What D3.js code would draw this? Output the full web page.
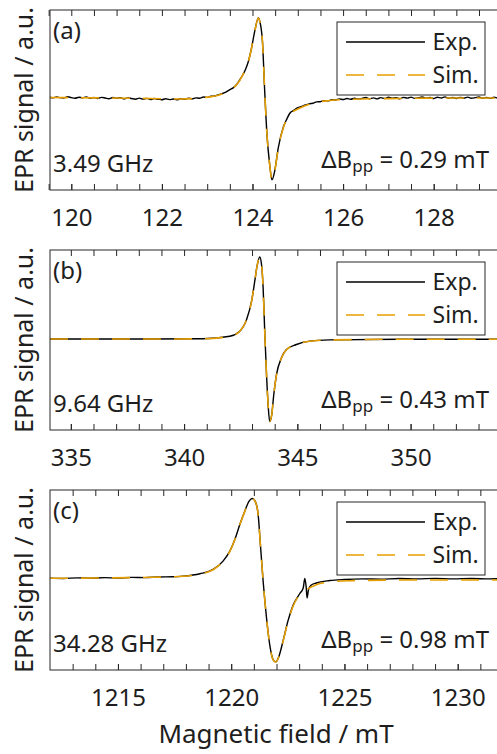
<!DOCTYPE html>
<html>
<head>
<meta charset="utf-8">
<script src="https://cdn.jsdelivr.net/npm/d3@7"></script>
<style>
  body { margin: 0; background: #fff; }
  svg { display: block; }
  text { font-family: "Noto Sans", sans-serif; fill: #1e1e1e; }
</style>
</head>
<body>
<div id="chart"></div>
<script>
// 画布尺寸
const width = 497;
const height = 754;

// 每个面板的文字
const panelLabels = ["(a)", "(b)", "(c)"];
const frequencies = ["3.49 GHz", "9.64 GHz", "34.28 GHz"];
const linewidths = ["0.29", "0.43", "0.98"];

// 横轴范围与刻度
const fieldRanges = [[119.53, 129.53], [334.08, 354.08], [1212, 1232]];
const majorTicks = [[120, 122, 124, 126, 128], [335, 340, 345, 350], [1215, 1220, 1225, 1230]];
const minorTicks = [
    [119.5, 120, 120.5, 121, 121.5, 122, 122.5, 123, 123.5, 124, 124.5, 125, 125.5, 126, 126.5, 127, 127.5, 128, 128.5, 129, 129.5],
    [335, 336, 337, 338, 339, 340, 341, 342, 343, 344, 345, 346, 347, 348, 349, 350, 351, 352, 353, 354],
    [1213, 1214, 1215, 1216, 1217, 1218, 1219, 1220, 1221, 1222, 1223, 1224, 1225, 1226, 1227, 1228, 1229, 1230, 1231]
];

// (a) 3.49 GHz 模拟谱 [field, signal]
const simA = [
    [119.53, 0.028], [120.63, 0.024], [121.74, 0.017], [122.40, 0.011], [122.91, 0.026],
    [123.28, 0.059], [123.50, 0.114], [123.65, 0.170], [123.79, 0.281], [123.90, 0.411],
    [123.98, 0.578], [124.05, 0.763], [124.13, 0.911], [124.16, 0.874], [124.22, 0.652],
    [124.27, 0.097], [124.32, -0.386], [124.38, -0.719], [124.43, -0.886], [124.49, -0.792],
    [124.57, -0.533], [124.68, -0.311], [124.82, -0.163], [125.05, -0.089], [125.34, -0.033],
    [125.71, -0.006], [126.15, 0.008], [127.25, 0.017], [128.35, 0.022], [129.53, 0.022]
];

// (a) 实验谱（带噪声）
const expA = [
    [119.53, 0.031], [119.60, 0.024], [119.68, 0.034], [119.75, 0.026], [119.83, 0.022], [119.92, 0.036],
    [120.00, 0.027], [120.08, 0.019], [120.17, 0.031], [120.25, 0.024], [120.33, 0.033], [120.42, 0.020],
    [120.50, 0.028], [120.58, 0.017], [120.67, 0.029], [120.75, 0.022], [120.83, 0.014], [120.92, 0.027],
    [121.00, 0.019], [121.08, 0.025], [121.17, 0.012], [121.25, 0.023], [121.33, 0.016], [121.42, 0.009],
    [121.50, 0.021], [121.58, 0.010], [121.67, 0.018], [121.75, 0.005], [121.83, 0.016], [121.92, 0.008],
    [122.00, 0.003], [122.08, 0.014], [122.17, 0.004], [122.25, 0.011], [122.33, 0.002], [122.42, 0.015],
    [122.50, 0.008], [122.58, 0.019], [122.67, 0.013], [122.75, 0.024], [122.83, 0.020], [122.92, 0.033],
    [123.00, 0.029], [123.08, 0.042], [123.17, 0.045], [123.25, 0.058], [123.33, 0.071], [123.42, 0.090],
    [123.50, 0.116], [123.58, 0.138], [123.65, 0.172], [123.72, 0.225], [123.79, 0.283], [123.85, 0.345],
    [123.90, 0.413], [123.98, 0.580], [124.05, 0.765], [124.13, 0.913], [124.16, 0.876], [124.22, 0.650],
    [124.27, 0.095], [124.32, -0.388], [124.38, -0.720], [124.43, -0.888], [124.49, -0.790], [124.57, -0.528],
    [124.68, -0.302], [124.75, -0.220], [124.82, -0.150], [124.92, -0.112], [125.00, -0.086], [125.08, -0.072],
    [125.17, -0.055], [125.25, -0.043], [125.33, -0.036], [125.42, -0.021], [125.50, -0.019], [125.58, -0.008],
    [125.67, -0.010], [125.75, 0.004], [125.83, 0.000], [125.92, 0.012], [126.00, 0.005], [126.08, 0.016],
    [126.17, 0.008], [126.25, 0.020], [126.33, 0.011], [126.42, 0.018], [126.50, 0.027], [126.58, 0.014],
    [126.67, 0.024], [126.75, 0.013], [126.83, 0.026], [126.92, 0.017], [127.00, 0.031], [127.08, 0.019],
    [127.17, 0.025], [127.25, 0.014], [127.33, 0.029], [127.42, 0.021], [127.50, 0.032], [127.58, 0.018],
    [127.67, 0.026], [127.75, 0.034], [127.83, 0.019], [127.92, 0.028], [128.00, 0.016], [128.08, 0.030],
    [128.17, 0.022], [128.25, 0.035], [128.33, 0.020], [128.42, 0.027], [128.50, 0.017], [128.58, 0.029],
    [128.67, 0.021], [128.75, 0.032], [128.83, 0.019], [128.92, 0.026], [129.00, 0.033], [129.08, 0.020],
    [129.17, 0.028], [129.25, 0.018], [129.33, 0.030], [129.42, 0.022], [129.53, 0.026]
];

// (b) 9.64 GHz
const simB = [
    [334.08, 0.011], [338.49, 0.011], [340.83, 0.014], [342.02, 0.041], [342.46, 0.097],
    [342.76, 0.226], [342.98, 0.430], [343.12, 0.652], [343.22, 0.819], [343.34, 0.922],
    [343.42, 0.837], [343.49, 0.578], [343.56, 0.097], [343.64, -0.386], [343.71, -0.719],
    [343.78, -0.906], [343.87, -0.830], [343.96, -0.608], [344.08, -0.386], [344.30, -0.200],
    [344.52, -0.108], [344.96, -0.052], [345.55, -0.014], [346.43, 0.000], [349.52, 0.008],
    [354.08, 0.008]
];
const expB = [
    [334.08, 0.011], [338.49, 0.011], [340.83, 0.014], [342.02, 0.042], [342.46, 0.098],
    [342.76, 0.227], [342.98, 0.431], [343.12, 0.653], [343.22, 0.820], [343.34, 0.923],
    [343.42, 0.836], [343.49, 0.577], [343.56, 0.096], [343.64, -0.387], [343.71, -0.720],
    [343.78, -0.907], [343.87, -0.829], [343.96, -0.606], [344.08, -0.384], [344.30, -0.198],
    [344.52, -0.106], [344.96, -0.050], [345.55, -0.013], [346.43, 0.001], [349.52, 0.008],
    [354.08, 0.008]
];

// (c) 34.28 GHz
const simC = [
    [1212.00, 0.019], [1216.41, 0.030], [1217.88, 0.041], [1218.62, 0.067], [1219.20, 0.114],
    [1219.64, 0.208], [1219.94, 0.319], [1220.16, 0.448], [1220.38, 0.614], [1220.60, 0.763],
    [1220.79, 0.874], [1220.94, 0.903], [1221.09, 0.856], [1221.19, 0.726], [1221.29, 0.392],
    [1221.41, -0.014], [1221.56, -0.422], [1221.70, -0.719], [1221.85, -0.886], [1221.97, -0.911],
    [1222.11, -0.848], [1222.29, -0.681], [1222.51, -0.459], [1222.73, -0.292], [1223.03, -0.163],
    [1223.32, -0.108], [1223.76, -0.052], [1224.35, -0.022], [1225.23, -0.008], [1228.32, 0.000],
    [1232.00, 0.000]
];
const expC = [
    [1212.00, 0.021], [1212.60, 0.017], [1213.20, 0.024], [1213.80, 0.019], [1214.40, 0.026],
    [1215.00, 0.021], [1215.60, 0.029], [1216.20, 0.026], [1216.80, 0.034], [1217.40, 0.036],
    [1217.88, 0.043], [1218.62, 0.070], [1219.20, 0.117], [1219.64, 0.210], [1219.94, 0.321],
    [1220.16, 0.450], [1220.38, 0.616], [1220.60, 0.765], [1220.79, 0.876], [1220.94, 0.905],
    [1221.09, 0.857], [1221.19, 0.726], [1221.29, 0.392], [1221.41, -0.014], [1221.56, -0.422],
    [1221.70, -0.719], [1221.85, -0.884], [1221.97, -0.909], [1222.11, -0.846], [1222.29, -0.677],
    [1222.51, -0.452], [1222.73, -0.282], [1223.03, -0.150], [1223.18, -0.089], [1223.25, 0.017],
    [1223.31, -0.078], [1223.35, -0.200], [1223.41, -0.111], [1223.51, -0.061], [1223.76, -0.033],
    [1224.35, -0.006], [1225.00, 0.006], [1225.80, 0.013], [1226.60, 0.010], [1227.40, 0.016],
    [1228.20, 0.012], [1229.00, 0.018], [1229.80, 0.013], [1230.60, 0.017], [1231.40, 0.012],
    [1232.00, 0.015]
];

const simSeries = [simA, simB, simC];
const expSeries = [expA, expB, expC];

// 布局
const plotLeft = 50;
const plotRight = 503;
const panelTops = [10, 250, 490];
const panelHeight = 180;
const axisColor = "#262626";
const simColor = "#E69F00";

const svg = d3.select("#chart")
    .append("svg")
    .attr("width", width)
    .attr("height", height);

panelTops.forEach((top, i) => {
    const bottom = top + panelHeight;

    const x = d3.scaleLinear()
        .domain(fieldRanges[i])
        .range([plotLeft, plotRight]);

    const y = d3.scaleLinear()
        .domain([-1, 1])
        .range([bottom, top]);

    const g = svg.append("g").attr("class", "panel");

    // 曲线
    const line = d3.line()
        .x(d => x(d[0]))
        .y(d => y(d[1]))
        .curve(d3.curveMonotoneX);

    g.append("path")
        .datum(expSeries[i])
        .attr("d", line)
        .attr("fill", "none")
        .attr("stroke", "#000")
        .attr("stroke-width", 1.4)
        .attr("stroke-linejoin", "round");

    g.append("path")
        .datum(simSeries[i])
        .attr("d", line)
        .attr("fill", "none")
        .attr("stroke", simColor)
        .attr("stroke-width", 1.6)
        .attr("stroke-dasharray", "18,13");

    // 坐标框
    g.append("rect")
        .attr("x", plotLeft)
        .attr("y", top)
        .attr("width", plotRight - plotLeft)
        .attr("height", panelHeight)
        .attr("fill", "none")
        .attr("stroke", axisColor)
        .attr("stroke-width", 1);

    // 底部刻度（向内）
    const bottomAxis = g.append("g")
        .attr("transform", `translate(0,${bottom})`)
        .call(d3.axisBottom(x)
            .tickValues(majorTicks[i])
            .tickSize(-6)
            .tickPadding(19)
            .tickFormat(d3.format("d")));
    bottomAxis.select(".domain").remove();
    bottomAxis.selectAll("line").attr("stroke", axisColor);
    bottomAxis.selectAll("text")
        .style("font-family", "'Noto Sans', sans-serif")
        .style("font-size", "24px")
        .attr("fill", "#1e1e1e");

    const bottomMinor = g.append("g")
        .attr("transform", `translate(0,${bottom})`)
        .call(d3.axisBottom(x).tickValues(minorTicks[i]).tickSize(-6).tickFormat(""));
    bottomMinor.select(".domain").remove();
    bottomMinor.selectAll("line").attr("stroke", axisColor);

    // 顶部刻度（向内）
    const topAxis = g.append("g")
        .attr("transform", `translate(0,${top})`)
        .call(d3.axisTop(x).tickValues(minorTicks[i]).tickSize(-6).tickFormat(""));
    topAxis.select(".domain").remove();
    topAxis.selectAll("line").attr("stroke", axisColor);

    // 面板标记
    g.append("text")
        .attr("x", 53)
        .attr("y", top + 29)
        .style("font-size", "24px")
        .text(panelLabels[i]);

    g.append("text")
        .attr("x", 53)
        .attr("y", bottom - 18)
        .style("font-size", "24px")
        .text(frequencies[i]);

    const dB = g.append("text")
        .attr("x", 489)
        .attr("y", bottom - 22)
        .attr("text-anchor", "end")
        .style("font-size", "24px");
    dB.append("tspan").text("ΔB");
    dB.append("tspan").attr("dy", 4).style("font-size", "17px").text("pp");
    dB.append("tspan").attr("dy", -4).text(` = ${linewidths[i]} mT`);

    // 图例
    const legend = g.append("g").attr("transform", `translate(337,${top + 12})`);
    legend.append("rect")
        .attr("width", 148)
        .attr("height", 73)
        .attr("fill", "#fff")
        .attr("stroke", axisColor)
        .attr("stroke-width", 1);
    legend.append("line")
        .attr("x1", 9).attr("x2", 88)
        .attr("y1", 20).attr("y2", 20)
        .attr("stroke", "#000")
        .attr("stroke-width", 1.3);
    legend.append("line")
        .attr("x1", 9).attr("x2", 88)
        .attr("y1", 53).attr("y2", 53)
        .attr("stroke", simColor)
        .attr("stroke-width", 1.6)
        .attr("stroke-dasharray", "18,13");
    legend.append("text")
        .attr("x", 95.5).attr("y", 28)
        .style("font-size", "23px")
        .text("Exp.");
    legend.append("text")
        .attr("x", 95.5).attr("y", 61)
        .style("font-size", "23px")
        .text("Sim.");

    // 纵轴标题
    svg.append("text")
        .attr("transform", `translate(33,${top + panelHeight / 2}) rotate(-90)`)
        .attr("text-anchor", "middle")
        .style("font-size", "25px")
        .text("EPR signal / a.u.");
});

// 横轴标题
svg.append("text")
    .attr("x", 276)
    .attr("y", 743)
    .attr("text-anchor", "middle")
    .style("font-size", "26px")
    .text("Magnetic field / mT");
</script>
</body>
</html>
